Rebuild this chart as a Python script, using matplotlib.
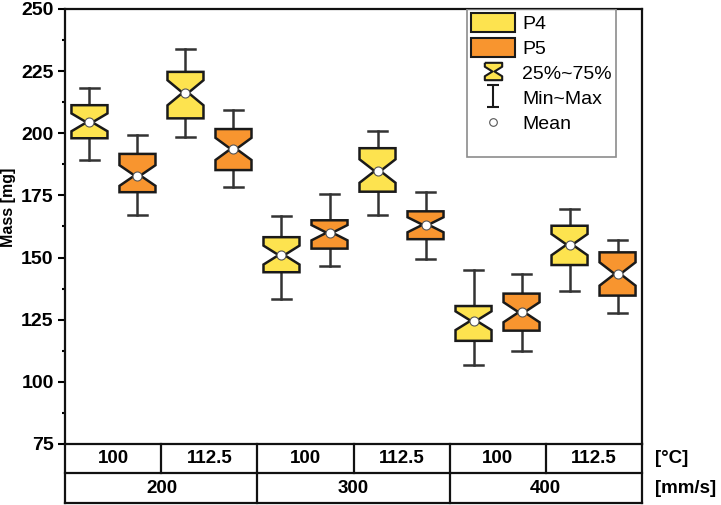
import numpy as np
import matplotlib.pyplot as plt
from matplotlib.patches import Polygon, Rectangle, Patch
from matplotlib.lines import Line2D
from matplotlib.path import Path

plt.rcParams['font.family'] = ['Liberation Sans', 'DejaVu Sans']

# Table labels below the plot
temps = ['100', '112.5', '100', '112.5', '100', '112.5']
speeds = ['200', '300', '400']

# P4 box statistics, one value per temperature/speed cell
p4_max = [218.3, 233.9, 166.9, 201.0, 145.0, 169.7]
p4_q3 = [211.3, 224.7, 158.2, 194.0, 130.5, 162.8]
p4_med = [204.4, 216.3, 151.0, 184.8, 124.6, 155.2]
p4_mean = [204.4, 216.3, 151.0, 184.8, 124.6, 155.2]
p4_q1 = [198.0, 206.0, 144.1, 176.5, 116.5, 147.0]
p4_min = [189.3, 198.4, 133.5, 167.0, 106.8, 136.4]

# P5 box statistics
p5_max = [199.3, 209.5, 175.6, 176.3, 143.3, 157.0]
p5_q3 = [191.7, 201.7, 165.0, 168.6, 135.5, 152.1]
p5_med = [183.0, 193.7, 160.0, 163.2, 128.0, 143.4]
p5_mean = [183.0, 193.7, 160.0, 163.2, 128.0, 143.4]
p5_q1 = [176.3, 185.2, 153.6, 157.4, 120.6, 134.7]
p5_min = [167.1, 178.4, 146.7, 149.4, 112.3, 127.6]

yellow = '#FDE34F'
orange = '#F8952F'
edge = '#1a1a1a'
wcol = '#333333'

box_w = 0.375
cap_w = 0.19
waist = 0.16       # width of notch waist relative to box width
notch_frac = 0.27  # notch half height relative to IQR


def notched_box(ax, x, lo, q1, med, q3, hi, mean, color):
    hw = box_w / 2
    nw = hw * waist
    d = notch_frac * (q3 - q1)
    nlo = max(q1, med - d)
    nhi = min(q3, med + d)
    # whiskers + caps
    ax.plot([x, x], [q3, hi], color=wcol, lw=1.8, zorder=2)
    ax.plot([x, x], [lo, q1], color=wcol, lw=1.8, zorder=2)
    ax.plot([x - cap_w / 2, x + cap_w / 2], [hi, hi], color=wcol, lw=1.8, zorder=2)
    ax.plot([x - cap_w / 2, x + cap_w / 2], [lo, lo], color=wcol, lw=1.8, zorder=2)
    xs = [x - hw, x + hw, x + hw, x + nw, x + hw, x + hw, x - hw, x - hw, x - nw, x - hw]
    ys = [q1, q1, nlo, med, nhi, q3, q3, nhi, med, nlo]
    ax.add_patch(Polygon(np.column_stack([xs, ys]), closed=True, fc=color,
                         ec=edge, lw=1.8, joinstyle='miter', zorder=3))
    ax.plot(x, mean, 'o', mfc='white', mec='#555555', mew=0.8, ms=6.5, zorder=4)


fig = plt.figure(figsize=(7.21, 5.05), dpi=100)
ax = fig.add_axes([0.0908, 0.1208, 0.799, 0.8614])

pos = np.arange(len(temps))
for i in pos:
    notched_box(ax, i - 0.25, p4_min[i], p4_q1[i], p4_med[i], p4_q3[i], p4_max[i], p4_mean[i], yellow)
    notched_box(ax, i + 0.25, p5_min[i], p5_q1[i], p5_med[i], p5_q3[i], p5_max[i], p5_mean[i], orange)

ax.set_xlim(-0.5, 5.5)
ax.set_ylim(75, 250)
ax.set_yticks(np.arange(75, 251, 25))
ax.set_yticks(np.arange(87.5, 250, 25), minor=True)
ax.set_xticks([])
ax.tick_params(axis='y', which='major', length=5, width=1.5, labelsize=14, pad=3.5)
ax.tick_params(axis='y', which='minor', length=2.5, width=1.5)
for lab in ax.get_yticklabels():
    lab.set_fontweight('bold')
for s in ax.spines.values():
    s.set_linewidth(1.6)
    s.set_color('#111111')

fig.text(9 / 721, 1 - 207 / 505, 'Mass [mg]', rotation=90, ha='center', va='center',
         fontsize=11.5, fontweight='bold')

# legend frame and entries
ax.add_patch(Rectangle((0.697, 0.66), 0.258, 0.34, transform=ax.transAxes,
                       fill=False, ec='#8c8c8c', lw=1.2, zorder=5))
hourglass = Path([(-1, 1), (1, 1), (1, 0.55), (0.12, 0), (1, -0.55), (1, -1),
                  (-1, -1), (-1, -0.55), (-0.12, 0), (-1, 0.55), (-1, 1)])
whisk = Path([(0, -1), (0, 1), (-0.55, 1), (0.55, 1), (-0.55, -1), (0.55, -1)],
             [Path.MOVETO, Path.LINETO, Path.MOVETO, Path.LINETO, Path.MOVETO, Path.LINETO])
handles = [
    Patch(fc=yellow, ec=edge, lw=1.5),
    Patch(fc=orange, ec=edge, lw=1.5),
    Line2D([], [], ls='none', marker=hourglass, ms=12.5, mfc=yellow, mec=edge, mew=1.5),
    Line2D([], [], ls='none', marker=whisk, ms=16, mfc='none', mec=edge, mew=1.5),
    Line2D([], [], ls='none', marker='o', ms=5.5, mfc='white', mec='#555555', mew=0.8),
]
ax.legend(handles, ['P4', 'P5', '25%~75%', 'Min~Max', 'Mean'], loc='upper left',
          bbox_to_anchor=(0.7037, 0.99), frameon=False, fontsize=14, borderpad=0,
          borderaxespad=0, handlelength=2.27, handleheight=1.08, labelspacing=0.27,
          handletextpad=0.36)

# table under the axis
tab = fig.add_axes([0.0908, 0.004, 0.799, 0.1168])
tab.set_xlim(-0.5, 5.5)
tab.set_ylim(0, 2)
tab.axis('off')
lk = dict(color='#111111', lw=1.6, clip_on=False)
for yy in [0, 1]:
    tab.plot([-0.5, 5.5], [yy, yy], **lk)
for xx in [-0.5, 5.5]:
    tab.plot([xx, xx], [0, 2], **lk)
for xx in pos[:-1] + 0.5:
    tab.plot([xx, xx], [1, 2], **lk)
for xx in [1.5, 3.5]:
    tab.plot([xx, xx], [0, 1], **lk)
for i, t in enumerate(temps):
    tab.text(i, 1.5, t, ha='center', va='center', fontsize=13.5, fontweight='bold')
for j, s in enumerate(speeds):
    tab.text(2 * j + 0.5, 0.5, s, ha='center', va='center', fontsize=13.5, fontweight='bold')
tab.text(1.023, 0.75, '[°C]', transform=tab.transAxes, ha='left', va='center',
         fontsize=13.5, fontweight='bold')
tab.text(1.023, 0.25, '[mm/s]', transform=tab.transAxes, ha='left', va='center',
         fontsize=13.5, fontweight='bold')

fig.savefig('out.png', dpi=100)
